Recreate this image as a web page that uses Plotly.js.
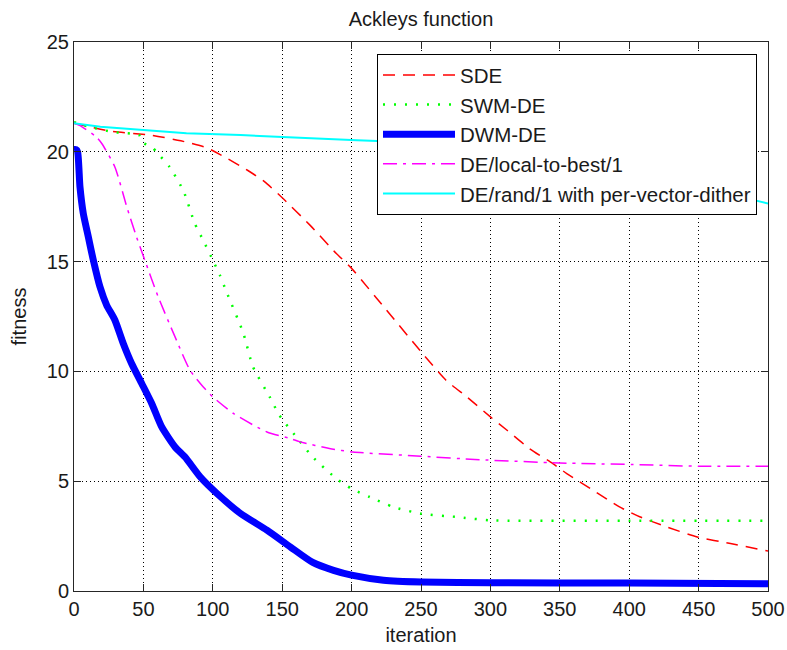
<!DOCTYPE html>
<html>
<head>
<meta charset="utf-8">
<script src="https://cdn.plot.ly/plotly-3.0.1.min.js"></script>
<style>html,body{margin:0;padding:0;background:#fff;}#chart{width:787px;height:650px;}</style>
</head>
<body>
<div id="chart"></div>
<script>
// ---- data ----
var seriesNames = ["SDE", "SWM-DE", "DWM-DE", "DE/local-to-best/1", "DE/rand/1 with per-vector-dither"];

var iterSDE = [0, 25, 55, 77, 95, 106, 125, 137, 151, 170, 189, 199, 225, 250, 268, 283, 300, 312, 328, 345, 355, 374, 393, 408, 427, 449, 473, 500];
var fitSDE  = [21.3, 20.95, 20.76, 20.5, 20.2, 19.85, 19.16, 18.65, 17.85, 16.66, 15.37, 14.76, 12.8, 10.9, 9.6, 8.84, 7.93, 7.32, 6.49, 5.8, 5.35, 4.59, 3.83, 3.37, 2.92, 2.46, 2.16, 1.82];

var iterSWM = [0, 11, 28, 47, 50, 56, 60, 69, 79, 87, 93, 99, 105, 110, 122, 129, 141, 148, 162, 172, 189, 200, 213, 230, 250, 276, 300, 400, 500];
var fitSWM  = [21.35, 21.14, 20.9, 20.76, 20.4, 20.23, 19.95, 19.3, 18.2, 16.74, 15.98, 15.2, 14.4, 13.6, 11.74, 10.2, 8.84, 8.0, 6.87, 6.1, 5.12, 4.66, 4.28, 3.83, 3.52, 3.37, 3.22, 3.2, 3.2];

var iterDWM = [0, 1.5, 2.6, 4.3, 6.7, 10.3, 13.9, 18.7, 23.5, 29.5, 35.5, 41.5, 48.8, 56, 63.2, 72.8, 80, 91, 103, 120, 139, 156, 172, 187, 200, 223, 250, 300, 400, 500];
var fitDWM  = [20.1, 20.1, 20.0, 18.4, 17.19, 16.13, 15.07, 13.85, 13.02, 12.33, 11.27, 10.36, 9.45, 8.54, 7.47, 6.56, 6.1, 5.19, 4.44, 3.53, 2.77, 2.0, 1.3, 0.94, 0.72, 0.49, 0.41, 0.38, 0.36, 0.33];

var iterLTB = [0, 4, 16, 20, 29.5, 38, 45, 51, 60.7, 72.8, 83.6, 93, 100, 115, 139, 156, 163, 184, 201, 250, 292, 350, 403, 451, 500];
var fitLTB  = [21.3, 21.2, 20.68, 20.38, 19.3, 17.5, 16.13, 15.07, 13.39, 11.57, 10.05, 9.3, 8.84, 8.08, 7.24, 6.94, 6.79, 6.49, 6.33, 6.14, 5.98, 5.83, 5.76, 5.68, 5.68];

var iterRand = [0, 19, 50, 81, 120, 144, 175, 204, 218, 300, 350, 400, 450, 490, 500];
var fitRand  = [21.3, 21.14, 20.99, 20.84, 20.76, 20.68, 20.61, 20.53, 20.5, 20.3, 20.05, 19.6, 18.9, 17.8, 17.65];

var xTicks = [0, 50, 100, 150, 200, 250, 300, 350, 400, 450, 500];
var yTicks = [0, 5, 10, 15, 20, 25];

// ---- chart ----
var FONT = "Liberation Sans, Arial, sans-serif";
var TXT = "#1a1a1a";
var AX = "#262626";

function tr(x, y, i, color, width, dash, shape) {
  return {
    x: x, y: y, name: seriesNames[i], type: "scatter", mode: "lines",
    legendgroup: "g" + i,
    line: {color: color, width: width, dash: dash, shape: shape, smoothing: 0.6},
    hoverinfo: "skip"
  };
}

var data = [
  tr(iterSDE, fitSDE, 0, "#ff0000", 1.5, "12px,8px", "spline"),
  tr(iterSWM, fitSWM, 1, "#00ff00", 2.5, "2px,9px", "spline"),
  tr(iterDWM, fitDWM, 2, "#0000ff", 7, "solid", "spline"),
  tr(iterLTB, fitLTB, 3, "#ff00ff", 1.5, "14px,6px,3px,6px", "spline"),
  tr(iterRand, fitRand, 4, "#00ffff", 2, "solid", "linear")
];

function axis(title, ticks, range) {
  return {
    range: range, tickvals: ticks, ticktext: ticks.map(String),
    ticks: "inside", ticklen: 7, tickwidth: 1, tickcolor: AX,
    showline: true, linecolor: AX, linewidth: 1, mirror: "ticks",
    showgrid: true, gridcolor: "#000000", gridwidth: 1, griddash: "1px,3px",
    zeroline: false, fixedrange: true,
    tickfont: {family: FONT, size: 20, color: TXT},
    title: {text: title, font: {family: FONT, size: 20, color: TXT}}
  };
}

var xa = axis("iteration", xTicks, [0, 500]);
xa.title.standoff = 8;
var ya = axis("fitness", yTicks, [0, 25]);
ya.title.standoff = 14;

var layout = {
  width: 787, height: 650,
  margin: {l: 74, r: 19, t: 42, b: 59},
  paper_bgcolor: "#ffffff", plot_bgcolor: "#ffffff",
  font: {family: FONT, size: 20, color: TXT},
  title: {text: "Ackleys function", font: {family: FONT, size: 20, color: TXT},
          x: 0.535, xanchor: "center", y: 1 - 19/650, yanchor: "middle"},
  xaxis: xa, yaxis: ya,
  showlegend: true,
  legend: {
    x: 0.4366, y: 0.978, xanchor: "left", yanchor: "top",
    bgcolor: "#ffffff", bordercolor: "#000000", borderwidth: 1,
    font: {family: FONT, size: 20.5, color: TXT},
    itemwidth: 72, tracegroupgap: 2, traceorder: "normal",
    itemclick: false, itemdoubleclick: false
  }
};

Plotly.newPlot("chart", data, layout, {displayModeBar: false, staticPlot: true});
</script>
</body>
</html>
